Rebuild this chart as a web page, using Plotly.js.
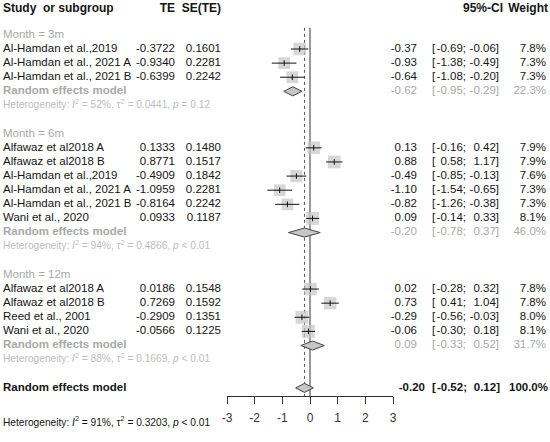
<!DOCTYPE html>
<html>
<head>
<meta charset="utf-8">
<script src="https://cdn.plot.ly/plotly-3.0.1.min.js"></script>
<style>body{margin:0;background:#fff}#plot{width:550px;height:442px}</style>
</head>
<body>
<div id="plot"></div>
<script>
// study level data
var studyNames = ['Al-Hamdan et al.,2019', 'Al-Hamdan et al., 2021 A', 'Al-Hamdan et al., 2021 B',
    'Alfawaz et al2018 A', 'Alfawaz et al2018 B', 'Al-Hamdan et al.,2019', 'Al-Hamdan et al., 2021 A', 'Al-Hamdan et al., 2021 B', 'Wani et al., 2020',
    'Alfawaz et al2018 A', 'Alfawaz et al2018 B', 'Reed et al., 2001', 'Wani et al., 2020'];
var groupOf = ['3m','3m','3m','6m','6m','6m','6m','6m','6m','12m','12m','12m','12m'];
var te = [-0.3722, -0.9340, -0.6399, 0.1333, 0.8771, -0.4909, -1.0959, -0.8164, 0.0933, 0.0186, 0.7269, -0.2909, -0.0566];
var se = ['0.1601', '0.2281', '0.2242', '0.1480', '0.1517', '0.1842', '0.2281', '0.2242', '0.1187', '0.1548', '0.1592', '0.1351', '0.1225'];
var ciLow = [-0.69, -1.38, -1.08, -0.16, 0.58, -0.85, -1.54, -1.26, -0.14, -0.28, 0.41, -0.56, -0.30];
var ciHigh = [-0.06, -0.49, -0.20, 0.42, 1.17, -0.13, -0.65, -0.38, 0.33, 0.32, 1.04, -0.03, 0.18];
var weights = [7.8, 7.3, 7.3, 7.9, 7.9, 7.6, 7.3, 7.3, 8.1, 7.8, 7.8, 8.0, 8.1];

// subgroups
var groups = ['3m', '6m', '12m'];
var subEst = [-0.62, -0.20, 0.09];
var subLow = [-0.95, -0.78, -0.33];
var subHigh = [-0.29, 0.37, 0.52];
var subWeight = [22.3, 46.0, 31.7];
var subI2 = ['52%', '94%', '88%'];
var subTau2 = ['0.0441', '0.4866', '0.1669'];
var subP = ['= 0.12', '< 0.01', '< 0.01'];

// overall
var totEst = -0.20, totLow = -0.52, totHigh = 0.12, totWeight = 100.0;
var totI2 = '91%', totTau2 = '0.3203', totP = '< 0.01';

var tickVals = [-3, -2, -1, 0, 1, 2, 3];
var tickLabels = ['-3', '-2', '-1', '0', '1', '2', '3'];

var GREY = '#a8a8a8', LIGHT = '#bdbdbd', INK = '#151515';
var FONT = 'Liberation Sans, Arial, sans-serif';

function f2(v) { return v.toFixed(2); }
function hetText(i2, tau, p) {
    return 'Heterogeneity: <i>I</i><sup>2</sup> = ' + i2 + ', \u03c4<sup>2</sup> = ' + tau + ', <i>p</i> ' + p;
}

// work out row positions
var studyRow = [], labelRow = [], subRow = [], hetRow = [];
var row = -1;
for (g = 0; g < groups.length; g++) {
    labelRow.push(row); row++;
    for (i = 0; i < studyNames.length; i++) {
        if (groupOf[i] == groups[g]) { studyRow[i] = row; row++; }
    }
    subRow.push(row); row++;
    hetRow.push(row); row++;
    row++;
}
var totRow = row;
var totHetRow = totRow + 2.5;
var headRow = -2.85;

// text columns live on x2/y2 (pixel-like x)
var texts = [];
function col(x, y, t, pos, size, color) {
    texts.push({x: x, y: y, t: t, pos: pos, size: size, color: color});
}
col(3, headRow, '<b>Study  or subgroup</b>', 'middle right', 12, INK);
col(175, headRow, '<b>TE</b>', 'middle left', 12, INK);
col(221, headRow, '<b>SE(TE)</b>', 'middle left', 12, INK);
col(503, headRow, '<b>95%-CI</b>', 'middle left', 12, INK);
col(548, headRow, '<b>Weight</b>', 'middle left', 12, INK);

for (i = 0; i < studyNames.length; i++) {
    var r = studyRow[i];
    col(3, r, studyNames[i], 'middle right', 11.5, INK);
    col(175, r, te[i].toFixed(4), 'middle left', 11.5, INK);
    col(221, r, se[i], 'middle left', 11.5, INK);
    col(417, r, f2(te[i]), 'middle left', 11.5, INK);
    col(432, r, '[', 'middle right', 11.5, INK);
    col(466, r, f2(ciLow[i]) + ';', 'middle left', 11.5, INK);
    col(499, r, f2(ciHigh[i]) + ']', 'middle left', 11.5, INK);
    col(546, r, weights[i].toFixed(1) + '%', 'middle left', 11.5, INK);
}
for (g = 0; g < groups.length; g++) {
    col(3, labelRow[g], 'Month = ' + groups[g], 'middle right', 11.5, GREY);
    col(3, subRow[g], '<b>Random effects model</b>', 'middle right', 11.5, GREY);
    col(417, subRow[g], f2(subEst[g]), 'middle left', 11.5, GREY);
    col(432, subRow[g], '[', 'middle right', 11.5, GREY);
    col(466, subRow[g], f2(subLow[g]) + ';', 'middle left', 11.5, GREY);
    col(499, subRow[g], f2(subHigh[g]) + ']', 'middle left', 11.5, GREY);
    col(546, subRow[g], subWeight[g].toFixed(1) + '%', 'middle left', 11.5, GREY);
    col(3, hetRow[g], hetText(subI2[g], subTau2[g], subP[g]), 'middle right', 10.2, LIGHT);
}
col(3, totRow, '<b>Random effects model</b>', 'middle right', 11.5, INK);
col(425, totRow, '<b>' + f2(totEst) + '</b>', 'middle left', 11.5, INK);
col(432, totRow, '<b>[</b>', 'middle right', 11.5, INK);
col(467, totRow, '<b>' + f2(totLow) + ';</b>', 'middle left', 11.5, INK);
col(500, totRow, '<b>' + f2(totHigh) + ']</b>', 'middle left', 11.5, INK);
col(548, totRow, '<b>' + totWeight.toFixed(1) + '%</b>', 'middle left', 11.5, INK);
col(3, totHetRow, hetText(totI2, totTau2, totP), 'middle right', 10.2, INK);

var plotdata = [];

// reference lines
plotdata.push({x: [0, 0], y: [-1.5, 24.575], xaxis: 'x', yaxis: 'y', mode: 'lines',
    line: {color: '#999', width: 2}});
plotdata.push({x: [totEst, totEst], y: [-1.5, 24.575], xaxis: 'x', yaxis: 'y', mode: 'lines',
    line: {color: '#555', width: 1, dash: 'dot'}});

// study squares
plotdata.push({x: te, y: studyRow, xaxis: 'x', yaxis: 'y', mode: 'markers',
    marker: {symbol: 'square', color: '#c6c6c6', size: weights.map(function (w) { return w * 1.6; }), line: {width: 0}}});

// CI whiskers
var cx = [], cy = [];
for (i = 0; i < te.length; i++) {
    cx.push(ciLow[i], ciHigh[i], null);
    cy.push(studyRow[i], studyRow[i], null);
}
plotdata.push({x: cx, y: cy, xaxis: 'x', yaxis: 'y', mode: 'lines', line: {color: '#111', width: 1}});
plotdata.push({x: te, y: studyRow, xaxis: 'x', yaxis: 'y', mode: 'markers',
    marker: {symbol: 'line-ns-open', size: 4, color: '#111', line: {width: 1, color: '#111'}}});

// diamonds
function diamond(est, lo, hi, r) {
    var h = 0.32;
    plotdata.push({x: [lo, est, hi, est, lo], y: [r, r - h, r, r + h, r], xaxis: 'x', yaxis: 'y',
        mode: 'lines', fill: 'toself', fillcolor: '#c6c6c6', line: {color: '#444', width: 1}});
}
for (g = 0; g < groups.length; g++) diamond(subEst[g], subLow[g], subHigh[g], subRow[g]);
diamond(totEst, totLow, totHigh, totRow);

// text traces
var styles = {};
texts.forEach(function (t) {
    var k = t.pos + '|' + t.size + '|' + t.color;
    if (!styles[k]) styles[k] = {x: [], y: [], text: [], pos: t.pos, size: t.size, color: t.color};
    styles[k].x.push(t.x); styles[k].y.push(t.y); styles[k].text.push(t.t);
});
for (k in styles) {
    var s = styles[k];
    plotdata.push({x: s.x, y: s.y, text: s.text, xaxis: 'x2', yaxis: 'y2', mode: 'text',
        marker: {size: 0},
        textposition: s.pos, textfont: {family: FONT, size: s.size, color: s.color}, cliponaxis: false});
}

var layout = {
    width: 550, height: 442,
    margin: {l: 0, r: 0, t: 0, b: 0},
    paper_bgcolor: '#fff', plot_bgcolor: 'rgba(0,0,0,0)',
    showlegend: false, hovermode: false,
    font: {family: FONT, color: INK},
    xaxis: {domain: [227 / 550, 393 / 550], range: [-3, 3], anchor: 'y',
        showline: true, linecolor: '#333', linewidth: 1, ticks: 'outside', ticklen: 7, tickcolor: '#333',
        tickvals: tickVals, ticktext: tickLabels, tickfont: {size: 12, color: '#333'},
        showgrid: false, zeroline: false, ticklabelstandoff: 4},
    yaxis: {domain: [46 / 442, 1], range: [24.575, -3.47], visible: false},
    xaxis2: {domain: [0, 1], range: [0, 550], anchor: 'y2', visible: false},
    yaxis2: {domain: [0, 1], range: [27.83, -3.47], anchor: 'x2', visible: false}
};

Plotly.newPlot('plot', plotdata, layout, {staticPlot: true});
</script>
</body>
</html>
